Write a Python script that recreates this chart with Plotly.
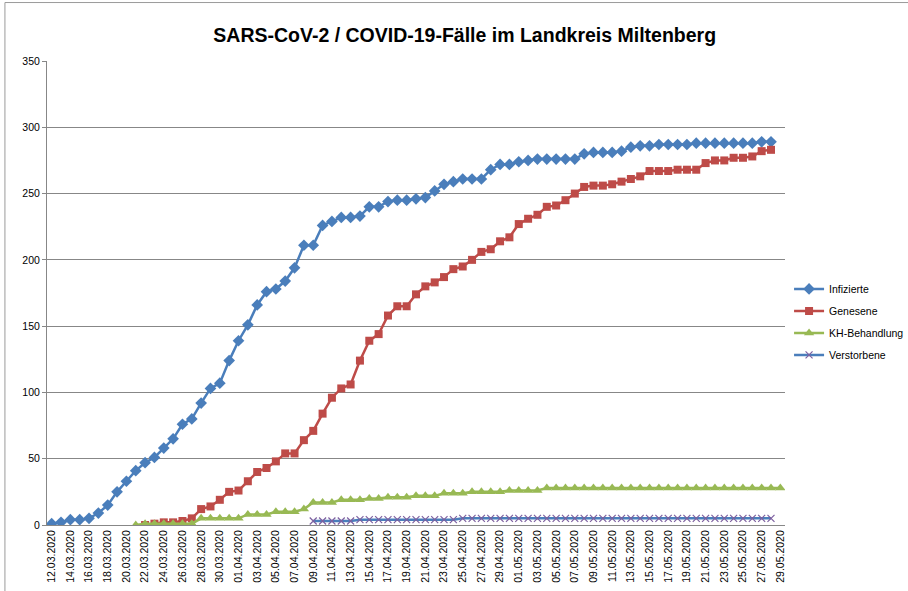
import plotly.graph_objects as go
import pandas as pd

# Categories: daily dates 12.03.2020 .. 29.05.2020
dates = [d.strftime("%d.%m.%Y") for d in pd.date_range("2020-03-12", "2020-05-29", freq="D")]
tick_labels = dates[::2]

infizierte = [1, 2, 4, 4, 5, 9, 15, 25, 33, 41, 47, 51, 58, 65, 76, 80, 92, 103, 107, 124,
              139, 151, 166, 176, 178, 184, 194, 211, 211, 226, 229, 232, 232, 233, 240, 240,
              244, 245, 245, 246, 247, 252, 257, 259, 261, 261, 261, 268, 272, 272, 274, 275,
              276, 276, 276, 276, 276, 280, 281, 281, 281, 282, 285, 286, 286, 287, 287, 287,
              287, 288, 288, 288, 288, 288, 288, 288, 289, 289]

genesene = [None] * 10 + [0, 1, 2, 2, 3, 5, 12, 14, 19, 25, 26, 33, 40, 43, 48, 54, 54, 64, 71,
                          84, 96, 103, 106, 124, 139, 144, 158, 165, 165, 174, 180, 183, 187,
                          193, 195, 200, 206, 208, 214, 217, 227, 231, 234, 240, 241, 245, 250,
                          255, 256, 256, 257, 259, 261, 263, 267, 267, 267, 268, 268, 268, 273,
                          275, 275, 277, 277, 278, 282, 283]

kh_behandlung = [None] * 9 + [0, 1, 1, 1, 1, 1, 1, 5, 5, 5, 5, 5, 8, 8, 8, 10, 10, 10, 12, 17,
                              17, 17, 19, 19, 19, 20, 20, 21, 21, 21, 22, 22, 22, 24, 24, 24,
                              25, 25, 25, 25, 26, 26, 26, 26, 28, 28, 28, 28, 28, 28, 28, 28,
                              28, 28, 28, 28, 28, 28, 28, 28, 28, 28, 28, 28, 28, 28, 28, 28,
                              28, 28, 28]

verstorbene = [None] * 28 + [3, 3, 3, 3, 3, 4, 4, 4, 4, 4, 4, 4, 4, 4, 4, 4,
                             5, 5, 5, 5, 5, 5, 5, 5, 5, 5, 5, 5, 5, 5, 5, 5, 5, 5, 5, 5, 5,
                             5, 5, 5, 5, 5, 5, 5, 5, 5, 5, 5, 5, 5]

series = [
    ("Infizierte", infizierte, "#4A7EBB", dict(symbol="diamond", size=9, color="#4A7EBB")),
    ("Genesene", genesene, "#BE4B48", dict(symbol="square", size=8, color="#BE4B48")),
    ("KH-Behandlung", kh_behandlung, "#98B954", dict(symbol="triangle-up", size=9, color="#98B954")),
    ("Verstorbene", verstorbene, "#4A7EBB",
     dict(symbol="x-thin-open", size=7, color="#7D60A0", line=dict(color="#7D60A0", width=1.2))),
]

fig = go.Figure()
for name, vals, lcol, mk in series:
    fig.add_trace(go.Scatter(
        x=dates[:len(vals)], y=vals, name=name, mode="lines+markers",
        line=dict(color=lcol, width=2.5), marker=mk, legendgroup=name,
    ))

grid = "#878787"
fig.update_layout(
    width=908, height=591,
    margin=dict(l=47, r=123, t=61, b=66, autoexpand=False),
    paper_bgcolor="white", plot_bgcolor="white",
    font=dict(family="Liberation Sans, Arial, sans-serif", size=11, color="#000000"),
    title=dict(text="<b>SARS-CoV-2 / COVID-19-Fälle im Landkreis Miltenberg</b>",
               x=0.566, xref="paper", xanchor="center", y=0.941, yref="container",
               yanchor="middle", font=dict(size=19.5, color="#000000")),
    showlegend=True,
    legend=dict(x=1.0055, xanchor="left", y=0.540, yanchor="top",
                font=dict(size=10.5), itemwidth=30, tracegroupgap=3,
                bgcolor="rgba(0,0,0,0)"),
    xaxis=dict(type="category", categoryorder="array", categoryarray=dates,
               range=[-0.5, len(dates) - 0.5], tickmode="array",
               tickvals=tick_labels, ticktext=tick_labels, tickangle=-90,
               tickfont=dict(size=10.5), showgrid=False, showline=True,
               linecolor=grid, linewidth=1, ticks="", zeroline=False, automargin=False),
    yaxis=dict(range=[0, 350], dtick=50, showgrid=True, gridcolor=grid, gridwidth=1,
               showline=True, linecolor=grid, linewidth=1, ticks="outside", ticklen=4,
               tickcolor=grid, tickfont=dict(size=10.5), zeroline=False, automargin=False),
    shapes=[dict(type="rect", xref="paper", yref="paper", x0=-0.057, x1=1.2,
                 y0=-0.2, y1=1.126, line=dict(color="#9A9A9A", width=1),
                 fillcolor="rgba(0,0,0,0)", layer="below")],
)

fig.write_html("out.html", config={"displayModeBar": False},
               post_script="document.body.style.margin='0';")
